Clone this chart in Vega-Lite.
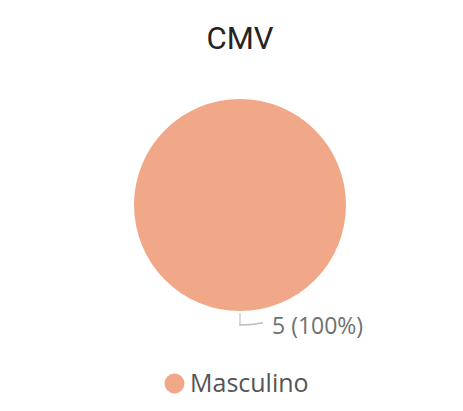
{
  "$schema": "https://vega.github.io/schema/vega-lite/v6.json",
  "width": 440,
  "height": 290,
  "autosize": "none",
  "padding": {"left": 20, "top": 60, "right": 3, "bottom": 61},
  "background": "white",
  "config": {"view": {"stroke": null}},
  "title": {
    "text": "CMV",
    "font": "Roboto",
    "fontSize": 31,
    "fontWeight": "normal",
    "color": "#252423",
    "anchor": "middle",
    "offset": 4
  },
  "data": {"values": [{"sexo": "Masculino", "count": 5, "label": "5 (100%)"}]},
  "layer": [
    {
      "mark": {"type": "arc", "radius": 106},
      "encoding": {
        "theta": {"field": "count", "type": "quantitative", "stack": true},
        "color": {
          "field": "sexo",
          "type": "nominal",
          "scale": {"range": ["#F0A888"]},
          "legend": {
            "orient": "none",
            "legendX": 142,
            "legendY": 311,
            "title": null,
            "padding": 0,
            "symbolType": "circle",
            "symbolSize": 400,
            "symbolStrokeWidth": 0,
            "labelFont": "Open Sans",
            "labelFontSize": 25,
            "labelColor": "#555555",
            "labelOffset": 3
          }
        }
      }
    },
    {
      "mark": {"type": "arc", "theta": 3.1366, "theta2": 3.1466, "radius": 108, "radius2": 120.5, "fill": "#bdbdbd"},
      "encoding": {}
    },
    {
      "mark": {"type": "arc", "theta": 2.95, "theta2": 3.1466, "radius": 119.3, "radius2": 120.8, "fill": "#bdbdbd"},
      "encoding": {}
    },
    {
      "mark": {"type": "text", "radius": 120, "align": "left", "baseline": "middle", "dx": 32, "dy": 2, "font": "Open Sans", "fontSize": 23, "color": "#707070"},
      "encoding": {
        "theta": {"field": "count", "type": "quantitative", "stack": true},
        "text": {"field": "label", "type": "nominal"}
      }
    }
  ]
}
